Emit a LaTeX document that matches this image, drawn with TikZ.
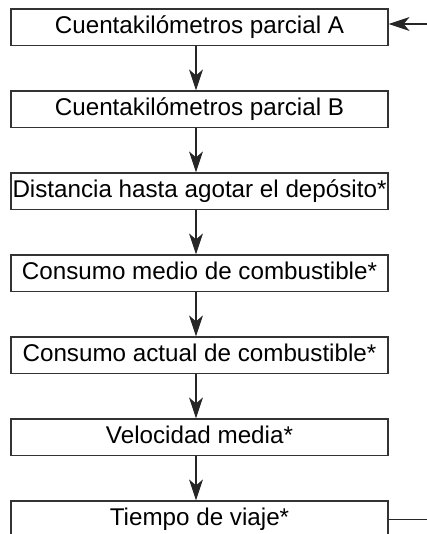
\documentclass[tikz,border=0pt]{standalone}
\usepackage{fontspec}
\setmainfont{Liberation Sans}
\usetikzlibrary{positioning, arrows.meta}

\tikzset{
  menubox/.style={draw=black!80, line width=1.2pt, minimum width=377pt, minimum height=36.5pt, inner sep=0pt,
    text height=17pt, text depth=5pt, font=\fontsize{24.2}{29}\selectfont},
  flow/.style={draw=black!85, line width=1.2pt, -{Stealth[length=21pt, width=14pt, inset=6pt]}}
}

\begin{document}
\begin{tikzpicture}[node distance=44.3pt]
\useasboundingbox (0,0) rectangle (427pt,-534pt);

% display modes, top to bottom
\node[menubox] (a) at (199.5pt,-27.25pt) {Cuentakilómetros parcial A};
\node[menubox, below=of a] (b) {Cuentakilómetros parcial B};
\node[menubox, below=of b] (c) {Distancia hasta agotar el depósito*};
\node[menubox, below=of c] (d) {Consumo medio de combustible*};
\node[menubox, below=of d] (e) {Consumo actual de combustible*};
\node[menubox, below=of e] (f) {Velocidad media*};
\node[menubox, below=of f] (g) {Tiempo de viaje*};

% arrows between modes
\foreach \from/\to in {a/b, b/c, c/d, d/e, e/f, f/g}
  \draw[flow] ([xshift=-3.5pt]\from.south) -- ([xshift=-3.5pt]\to.north);

% back to the first mode
\coordinate (back) at (427pt,-24pt);
\coordinate (out) at (427pt,0 |- g.east);
\draw[flow] (back) -- (back -| a.east);
\draw[draw=black!85, line width=1.2pt] (g.east) -- (out);
\end{tikzpicture}
\end{document}
